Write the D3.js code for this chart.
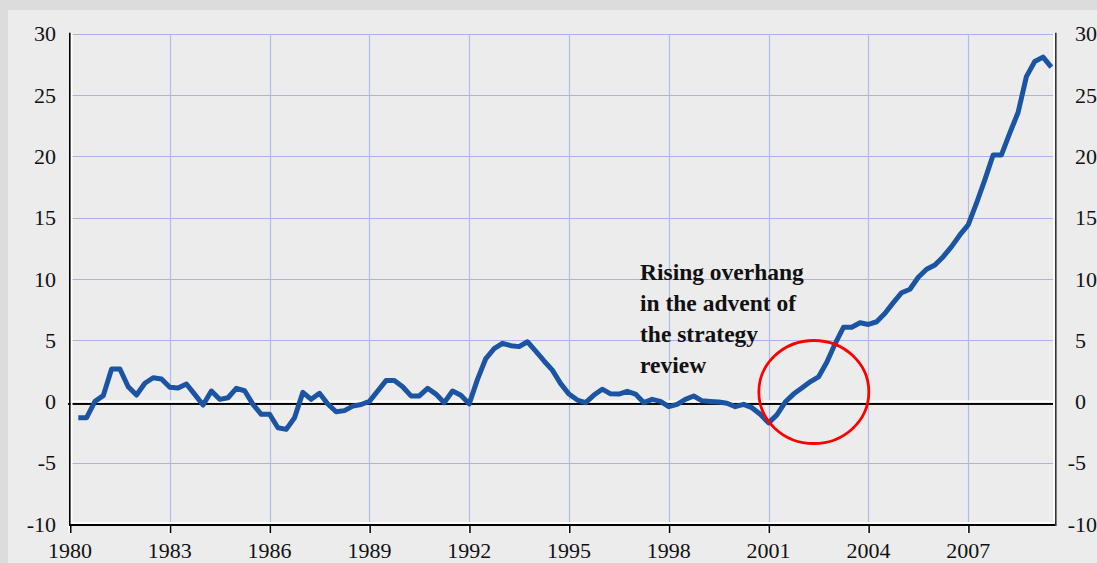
<!DOCTYPE html>
<html>
<head>
<meta charset="utf-8">
<script src="https://cdn.jsdelivr.net/npm/d3@7"></script>
<style>
  body { margin: 0; background: #dcdcdc; }
  svg { display: block; }
  text { font-family: "Liberation Serif", "Times New Roman", serif; fill: #111; }
</style>
</head>
<body>
<div id="draw"></div>
<script>
// quarterly series, first point 1980 Q2
var startYear = 1980.25;
var values = [
	-1.33, -1.33, 0.0,
	0.47, 2.65, 2.65, 1.2,
	0.52, 1.48, 1.93, 1.83,
	1.15, 1.09, 1.42, 0.58,
	-0.29, 0.85, 0.17, 0.3,
	1.07, 0.87, -0.24, -1.05,
	-1.05, -2.15, -2.28, -1.33,
	0.74, 0.17, 0.66, -0.21,
	-0.84, -0.75, -0.38, -0.25,
	0.0, 0.85, 1.7, 1.7,
	1.2, 0.45, 0.45, 1.07,
	0.6, -0.1, 0.85, 0.5,
	-0.2, 1.8, 3.5, 4.3,
	4.74, 4.55, 4.47, 4.87,
	4.1, 3.3, 2.55, 1.45,
	0.6, 0.11, -0.1, 0.52,
	1.0, 0.62, 0.6, 0.82,
	0.6, -0.1, 0.17, 0.0,
	-0.43, -0.24, 0.17, 0.44,
	0.05, 0.0, -0.05, -0.15,
	-0.43, -0.24, -0.51, -1.05,
	-1.75, -1.1, -0.05, 0.6,
	1.1, 1.6, 2.0, 3.2,
	4.7, 6.05, 6.05, 6.42,
	6.28, 6.5, 7.19, 8.06,
	8.87, 9.15, 10.13, 10.78,
	11.13, 11.81, 12.63, 13.58,
	14.4, 16.17, 18.07, 20.11,
	20.11, 21.89, 23.57, 26.5,
	27.73, 28.09, 27.27
];
var xTicks = [1980, 1983, 1986, 1989, 1992, 1995, 1998, 2001, 2004, 2007];
var yTicks = [30, 25, 20, 15, 10, 5, 0, -5, -10];
var noteLines = ['Rising overhang', 'in the advent of', 'the strategy', 'review'];

var W = 1097, H = 563;
var pLeft = 70, pRight = 1056, pTop = 33.7, pBottom = 524;

var svg = d3.select('#draw').append('svg').attr('width', W).attr('height', H);

svg.append('rect').attr('x', 8).attr('y', 10).attr('width', W - 8).attr('height', H - 10).attr('fill', '#ececec');

var x = d3.scaleLinear().domain([1980, 2009.64]).range([pLeft, pRight]);
var y = d3.scaleLinear().domain([-10, 30]).range([pBottom, pTop]);

// grid
svg.selectAll('.hgrid')
	.data(yTicks.filter(function (d) { return d > -10 && d !== 0; }))
	.enter()
	.append('line')
	.attr('x1', pLeft).attr('x2', pRight)
	.attr('y1', function (d) { return Math.round(y(d)) + 0.5; })
	.attr('y2', function (d) { return Math.round(y(d)) + 0.5; })
	.attr('stroke', '#a9b3e6').attr('stroke-width', 1.2);

svg.selectAll('.vgrid')
	.data(xTicks.slice(1))
	.enter()
	.append('line')
	.attr('y1', pTop).attr('y2', pBottom)
	.attr('x1', function (d) { return Math.round(x(d)) + 0.5; })
	.attr('x2', function (d) { return Math.round(x(d)) + 0.5; })
	.attr('stroke', '#b3bce6').attr('stroke-width', 1.2);

// zero line: white highlight over black
var y0 = y(0);
svg.append('rect').attr('x', pLeft - 2).attr('y', y0 - 1).attr('width', pRight - pLeft + 2).attr('height', 2.5).attr('fill', '#fff');
svg.append('rect').attr('x', pLeft - 2).attr('y', y0 + 1.5).attr('width', pRight - pLeft + 2).attr('height', 2).attr('fill', '#000');

// bottom axis
svg.append('rect').attr('x', pLeft).attr('y', pBottom - 2).attr('width', pRight - pLeft).attr('height', 2).attr('fill', '#fff');
svg.append('rect').attr('x', pLeft).attr('y', pBottom).attr('width', pRight - pLeft).attr('height', 2).attr('fill', '#000');
svg.selectAll('.tickw')
	.data(xTicks)
	.enter()
	.append('rect')
	.attr('x', function (d) { return x(d) - 1.5; })
	.attr('y', pBottom + 2).attr('width', 1.5).attr('height', 7).attr('fill', '#fff');
svg.selectAll('.tickb')
	.data(xTicks)
	.enter()
	.append('rect')
	.attr('x', function (d) { return x(d); })
	.attr('y', pBottom + 2).attr('width', 1.5).attr('height', 7).attr('fill', '#000');

// left and right axes
svg.append('rect').attr('x', pLeft + 0.5).attr('y', pTop - 1).attr('width', 2).attr('height', pBottom - pTop + 1).attr('fill', '#fff');
svg.append('rect').attr('x', pLeft - 1).attr('y', pTop - 1).attr('width', 1.6).attr('height', pBottom - pTop + 3).attr('fill', '#000');
svg.append('rect').attr('x', pRight - 3).attr('y', pTop - 1).attr('width', 2).attr('height', pBottom - pTop + 1).attr('fill', '#fff');
svg.append('rect').attr('x', pRight - 1).attr('y', pTop - 1).attr('width', 1.6).attr('height', pBottom - pTop + 3).attr('fill', '#333');

// y labels
svg.selectAll('.yl')
	.data(yTicks)
	.enter()
	.append('text')
	.attr('x', 56).attr('y', function (d) { return y(d); })
	.attr('dy', '0.35em')
	.attr('text-anchor', 'end')
	.style('font-size', '22px')
	.text(function (d) { return d; });

var yr = svg.selectAll('.yr').data(yTicks).enter().append('g')
	.attr('transform', function (d) { return 'translate(1075,' + y(d) + ')'; });
yr.append('text')
	.attr('dy', '0.35em')
	.style('font-size', '22px')
	.text(function (d) { return Math.abs(d); });
yr.filter(function (d) { return d < 0; })
	.append('text')
	.attr('dy', '0.35em')
	.attr('text-anchor', 'end')
	.style('font-size', '22px')
	.text('-');

// x labels
svg.selectAll('.xl')
	.data(xTicks)
	.enter()
	.append('text')
	.attr('x', function (d) { return x(d); })
	.attr('y', 558)
	.attr('text-anchor', 'middle')
	.style('font-size', '22px')
	.text(function (d) { return d; });

// series
var line = d3.line()
	.x(function (d, i) { return x(startYear + i / 4); })
	.y(function (d) { return y(d); });

svg.append('path')
	.datum(values)
	.attr('d', line)
	.attr('fill', 'none')
	.attr('stroke', '#1b54a2')
	.attr('stroke-width', 5)
	.attr('stroke-linejoin', 'round');

// annotation
svg.selectAll('.note')
	.data(noteLines)
	.enter()
	.append('text')
	.attr('x', 640)
	.attr('y', function (d, i) { return 280 + i * 31; })
	.style('font-size', '23.5px')
	.style('font-weight', 'bold')
	.text(function (d) { return d; });

svg.append('ellipse')
	.attr('cx', x(2002.36)).attr('cy', y(0.77))
	.attr('rx', 55).attr('ry', 51.5)
	.attr('fill', 'none')
	.attr('stroke', '#ff0000')
	.attr('stroke-width', 2.8);
</script>
</body>
</html>
